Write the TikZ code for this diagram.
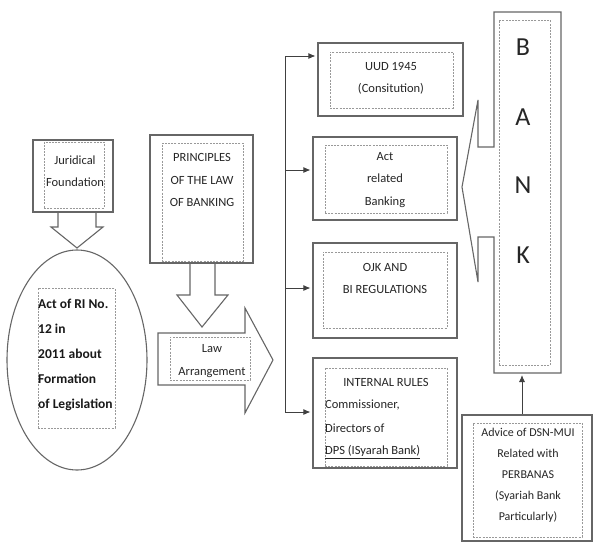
\documentclass[tikz,border=0pt]{standalone}
\usepackage{fontspec}
\setmainfont{Carlito}
\usetikzlibrary{arrows.meta,shapes.geometric}
\begin{document}
\begin{tikzpicture}[x=1pt,y=-1pt,
  outer/.style={draw=black!60,line width=1.1pt,fill=white},
  inner/.style={draw=black!40,line width=0.6pt,dash pattern=on 2pt off 1.2pt},
  obox/.style={outer,inner sep=0pt},
  ibox/.style={inner,inner sep=0pt},
  txt/.style={font=\fontsize{12.5}{22.5}\selectfont,text=black!85,align=center,inner sep=0pt},
  btxt/.style={font=\bfseries\fontsize{13.5}{25}\selectfont,text=black!90,align=left,inner sep=0pt},
  big/.style={font=\fontsize{26}{30}\selectfont,text=black!85,inner sep=0pt},
  conn/.style={draw=black!75,line width=0.9pt},
  arr/.style={conn,-{Latex[length=7pt,width=6pt]},shorten >=2pt},
]
\useasboundingbox (0,0) rectangle (595,544);
\clip (0,0) rectangle (595,544);

% Juridical foundation
\draw[outer] (58,212) -- (58,227) -- (51,227) -- (77,248) -- (103,227) -- (96,227) -- (96,212);
\node[obox,minimum width=80pt,minimum height=72pt] (jur) at (73,176) {};
\node[ibox,minimum width=60pt,minimum height=66pt] (juri) at (74,175) {};
\node[txt] (jurt) at (75,171) {Juridical\\Foundation};

% Ellipse
\node[outer,ellipse,minimum width=140pt,minimum height=220pt,inner sep=0pt] (act12) at (77,360) {};
\node[ibox,minimum width=77pt,minimum height=140pt] (act12i) at (76.5,358) {};
\node[btxt,anchor=west] (act12t) at (38,355) {Act of RI No.\\12 in\\2011 about\\Formation\\of Legislation};

% Principles
\draw[outer] (190,262) -- (190,295) -- (177,295) -- (202,327) -- (228,295) -- (215,295) -- (215,262);
\node[obox,minimum width=103pt,minimum height=128pt] (prin) at (201.5,199) {};
\node[ibox,minimum width=81pt,minimum height=118pt] (prini) at (202.5,202) {};
\node[txt] (print) at (202,180) {PRINCIPLES\\OF THE LAW\\OF BANKING};

% Law arrangement
\draw[outer] (158,333) -- (245,333) -- (245,308) -- (273,360) -- (245,413) -- (245,385) -- (158,385) -- cycle;
\node[ibox,minimum width=80pt,minimum height=43pt] (lawi) at (210,358.5) {};
\node[txt] (lawt) at (212,361) {Law\\Arrangement};

% Right column boxes
\node[obox,minimum width=145pt,minimum height=73pt] (uud) at (390.5,79.5) {};
\node[ibox,minimum width=123pt,minimum height=56pt] (uudi) at (391.5,80) {};
\node[txt] (uudt) at (391,78.5) {UUD 1945\\(Consitution)};

\node[obox,minimum width=144pt,minimum height=83pt] (act) at (385,178.5) {};
\node[ibox,minimum width=122pt,minimum height=68pt] (acti) at (386,179) {};
\node[txt] (actt) at (385,180) {Act\\related\\Banking};

\node[obox,minimum width=144pt,minimum height=95pt] (ojk) at (385,290.5) {};
\node[ibox,minimum width=124pt,minimum height=76pt] (ojki) at (385,290) {};
\node[txt] (ojkt) at (385,278.5) {OJK AND\\BI REGULATIONS};

\node[obox,minimum width=144pt,minimum height=110pt] (int) at (385,413) {};
\node[ibox,minimum width=122pt,minimum height=98pt] (inti) at (386,417) {};
\node[txt] (intt) at (386,382) {INTERNAL RULES};
\node[txt,anchor=west] (int1) at (325,405) {Commissioner,};
\node[txt,anchor=west] (int2) at (325,428) {Directors of};
\node[txt,anchor=west] (int3) at (325,452) {\underline{DPS (ISyarah Bank)}};

% Bus and arrows
\coordinate (b1) at (285,56);
\coordinate (b2) at (285,170);
\coordinate (b3) at (285,288);
\coordinate (b4) at (285,412);
\draw[arr] (b4) -- (b1) -- (b1 -| uud.west);
\draw[arr] (b1) -- (b4) -- (b4 -| int.west);
\draw[arr] (b2) -- (b2 -| act.west);
\draw[arr] (b3) -- (b3 -| ojk.west);

% BANK callout
\draw[outer] (494,12) -- (561,12) -- (561,373) -- (494,373) -- (494,237) -- (478,237) -- (478,282) -- (462,187) -- (478,100) -- (478,147) -- (494,147) -- cycle;
\node[ibox,minimum width=51pt,minimum height=345pt] (banki) at (524.5,192.5) {};
\node[big] (bB) at (523,47) {B};
\node[big] (bA) at (523,117) {A};
\node[big] (bN) at (523,185) {N};
\node[big] (bK) at (523,255) {K};
\coordinate (bankbot) at (522,373);

% Advice box
\node[obox,minimum width=130pt,minimum height=126pt] (adv) at (527,478) {};
\node[ibox,minimum width=109pt,minimum height=114pt] (advi) at (527.5,480) {};
\node[txt,font=\fontsize{12}{21}\selectfont] (advt) at (528,475) {Advice of DSN-MUI\\Related with\\PERBANAS\\(Syariah Bank\\Particularly)};
\draw[arr] (bankbot |- adv.north) -- (bankbot);
\end{tikzpicture}
\end{document}
